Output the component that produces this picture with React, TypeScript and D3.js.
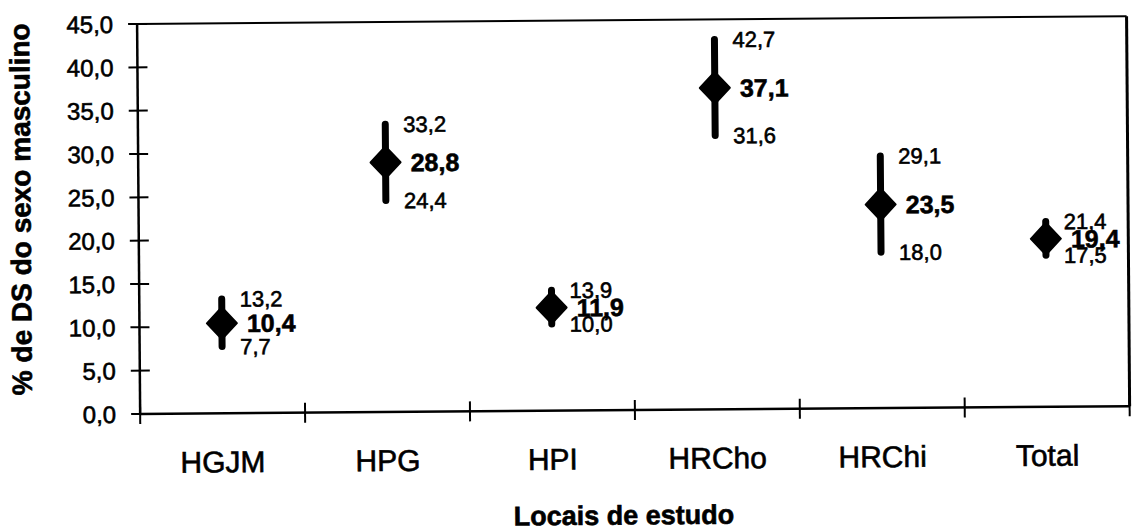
import * as d3 from 'd3';

// dados
const categories = ['HGJM', 'HPG', 'HPI', 'HRCho', 'HRChi', 'Total'];
const means = [10.4, 28.8, 11.9, 37.1, 23.5, 19.4];
const upper = [13.2, 33.2, 13.9, 42.7, 29.1, 21.4];
const lower = [7.7, 24.4, 10.0, 31.6, 18.0, 17.5];
const yTicks = [0, 5, 10, 15, 20, 25, 30, 35, 40, 45];

const W = 1136;
const H = 531;
const margin = { left: 139, right: 1128.5, top: 20.6, bottom: 410.6 };
const font = '"Liberation Sans", Arial, sans-serif';

const fmt = (v: number) => d3.format('.1f')(v).replace('.', ',');

function App() {
    const x = d3.scaleBand<string>().domain(categories).range([margin.left, margin.right]);
    const y = d3.scaleLinear().domain([0, 45]).range([margin.bottom, margin.top]);
    const bw = x.bandwidth();
    const boundaries = d3.range(categories.length + 1).map(i => margin.left + i * bw);

    const diamond = (cx: number, cy: number) =>
        `M${cx},${cy - 16} L${cx + 15},${cy} L${cx},${cy + 16} L${cx - 15},${cy} Z`;

    // o texto digitalizado é mais grosso: um traço fino imita isso
    const ink = { fill: '#000', stroke: '#000', strokeWidth: 0.6 };

    return (
        <svg width={W} height={H} style={{ position: 'absolute', left: 0, top: 0, background: '#fff' }}>
            <rect width={W} height={H} fill="#fff" />
            {/* o original foi digitalizado ligeiramente inclinado */}
            <g transform={`rotate(-0.45, ${W / 2}, ${H / 2})`} fontFamily={font}>
                {/* moldura */}
                <line x1={margin.left} x2={margin.right} y1={margin.top} y2={margin.top} stroke="#000" strokeWidth={2} />
                <line x1={margin.right} x2={margin.right} y1={margin.top} y2={margin.bottom} stroke="#000" strokeWidth={3} />
                <line x1={margin.left} x2={margin.left} y1={margin.top} y2={margin.bottom} stroke="#000" strokeWidth={2.5} />
                <line x1={margin.left} x2={margin.right} y1={margin.bottom} y2={margin.bottom} stroke="#000" strokeWidth={2.5} />

                {/* eixo y */}
                {yTicks.map(t => (
                    <g key={t}>
                        <line x1={margin.left - 9} x2={margin.left + 10} y1={y(t)} y2={y(t)} stroke="#000" strokeWidth={2} />
                        <text x={margin.left - 24} y={y(t)} dy="0.36em" textAnchor="end" fontSize={24} {...ink}>{fmt(t)}</text>
                    </g>
                ))}

                {/* eixo x */}
                {boundaries.map((b, i) => (
                    <line key={i} x1={b} x2={b} y1={margin.bottom - 10} y2={margin.bottom + 10} stroke="#000" strokeWidth={2} />
                ))}
                {categories.map(c => (
                    <text key={c} x={x(c)! + bw / 2} y={margin.bottom + 59} textAnchor="middle" fontSize={30} {...ink}>{c}</text>
                ))}

                {/* títulos */}
                <text x={622} y={525} textAnchor="middle" fontSize={27} fontWeight="bold" {...ink}>Locais de estudo</text>
                <text transform="translate(31, 205) rotate(-90)" textAnchor="middle" fontSize={28} fontWeight="bold" {...ink}>
                    % de DS do sexo masculino
                </text>

                {/* intervalos e médias */}
                {categories.map((c, i) => {
                    const cx = x(c)! + bw / 2;
                    return (
                        <g key={c}>
                            <line x1={cx} x2={cx} y1={y(upper[i])} y2={y(lower[i])} stroke="#000" strokeWidth={7} strokeLinecap="round" />
                            <path d={diamond(cx, y(means[i]))} fill="#000" stroke="#000" strokeWidth={2} strokeLinejoin="round" />
                            <text x={cx + 18} y={y(upper[i])} dy="0.36em" fontSize={22} {...ink}>{fmt(upper[i])}</text>
                            <text x={cx + 25} y={y(means[i])} dy="0.36em" fontSize={25} fontWeight="bold" {...ink}>{fmt(means[i])}</text>
                            <text x={cx + 18} y={y(lower[i])} dy="0.36em" fontSize={22} {...ink}>{fmt(lower[i])}</text>
                        </g>
                    );
                })}
            </g>
        </svg>
    );
}

export default App;
